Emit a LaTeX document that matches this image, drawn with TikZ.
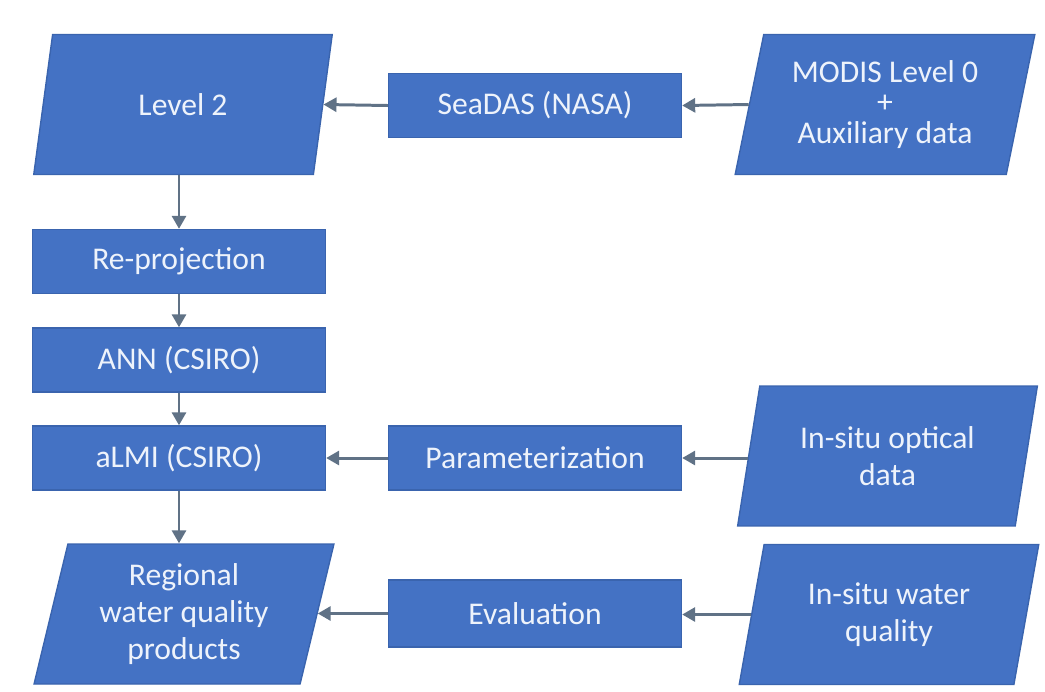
\documentclass[tikz,border=0pt]{standalone}
\usepackage{fontspec}
\setmainfont{Carlito}
\usepackage{tikz}
\usetikzlibrary{shapes.geometric, arrows.meta, positioning}

\definecolor{boxblue}{HTML}{4472C4}
\definecolor{boxedge}{HTML}{3A64AE}
\definecolor{arrgray}{HTML}{607286}
\definecolor{boxtext}{HTML}{EEF3FB}

\begin{document}
\begin{tikzpicture}[
    x=0.02cm, y=-0.02cm,
    every node/.style={font=\fontsize{18}{21}\selectfont, text=boxtext, align=center},
    procbox/.style={rectangle, fill=boxblue, draw=boxedge, line width=0.8pt,
        minimum width=5.86cm, minimum height=1.28cm, inner sep=2pt},
    databox/.style={trapezium, trapezium left angle=76.6, trapezium right angle=103.4,
        trapezium stretches=true, fill=boxblue, draw=boxedge, line width=0.8pt,
        minimum width=6cm, minimum height=2.8cm, inner sep=2pt},
    arr/.style={-{Triangle[length=0.26cm, width=0.28cm]}, draw=arrgray, line width=1.7pt}
]
\useasboundingbox (0,0) rectangle (1045,691);

% Left column
\node[databox] (level2) at (183,104.5) {Level 2};
\node[procbox] (reproj) at (179,261.5) {Re-projection};
\node[procbox] (ann) at (179,360) {ANN (CSIRO)};
\node[procbox] (almi) at (179,458) {aLMI (CSIRO)};
\node[databox] (regional) at (184,614) {Regional\\water quality\\products};

% Middle column
\node[procbox] (seadas) at (535,105.5) {SeaDAS (NASA)};
\node[procbox] (param) at (535,458) {Parameterization};
\node[procbox, minimum height=1.34cm] (eval) at (535,613.5) {Evaluation};

% Right column: inputs
\node[databox, font=\fontsize{18}{17.5}\selectfont] (modis) at (885,104.5) {MODIS Level 0\\+\\Auxiliary data};
\node[databox] (optical) at (887.5,456) {In-situ optical\\data};
\node[databox] (water) at (889,614.5) {In-situ water\\quality};

% Connectors
\draw[arr] (modis.west) -- (seadas.east);
\draw[arr] (seadas.west) -- (level2.east);
\draw[arr] (level2.south -| reproj.north) -- (reproj.north);
\draw[arr] (reproj) -- (ann);
\draw[arr] (ann) -- (almi);
\draw[arr] (optical.west |- param.east) -- (param.east);
\draw[arr] (param) -- (almi);
\draw[arr] (almi.south) -- (almi.south |- regional.north);
\draw[arr] (water.west) -- (water.west -| eval.east);
\draw[arr] (eval.west) -- (eval.west -| regional.east);
\end{tikzpicture}
\end{document}
